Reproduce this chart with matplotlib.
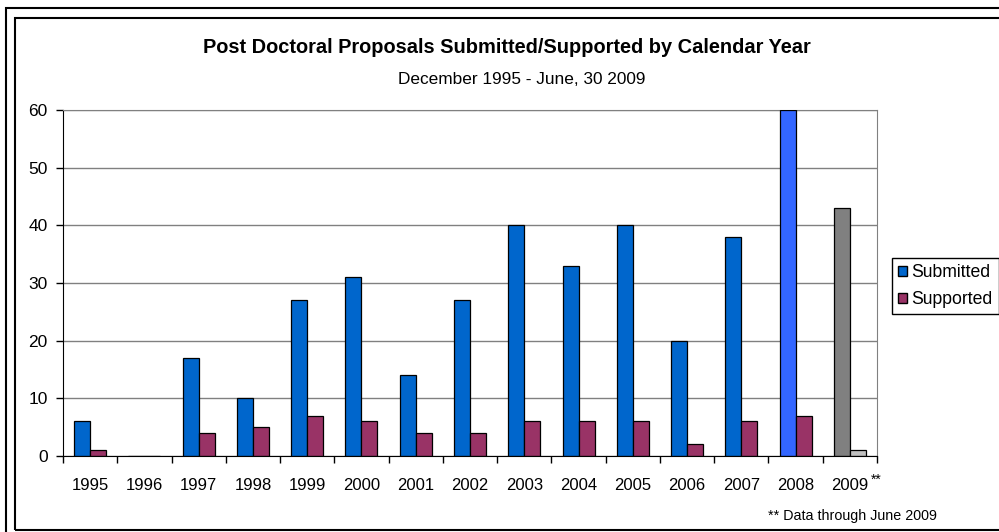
import numpy as np
import matplotlib.pyplot as plt
from matplotlib.patches import Rectangle, Patch
from matplotlib.transforms import blended_transform_factory


# ============================================================
# DATA
# ============================================================

YEARS = ["1995", "1996", "1997", "1998", "1999", "2000", "2001", "2002",
         "2003", "2004", "2005", "2006", "2007", "2008", "2009"]
SUBMITTED = [6, 0, 17, 10, 27, 31, 14, 27, 40, 33, 40, 20, 38, 60, 43]
SUPPORTED = [1, 0, 4, 5, 7, 6, 4, 4, 6, 6, 6, 2, 6, 7, 1]

TITLE = "Post Doctoral Proposals Submitted/Supported by Calendar Year"
SUBTITLE = "December 1995 - June, 30 2009"
FOOTNOTE = "** Data through June 2009"

# ============================================================
# STYLE
# ============================================================

SUBMITTED_COLOR = "#0066CC"
SUPPORTED_COLOR = "#993366"
# 2008 and 2009 bars are coloured differently in the original
SUBMITTED_OVERRIDE = {"2008": "#3366FF", "2009": "#808080"}
SUPPORTED_OVERRIDE = {"2009": "#C0C0C0"}

BAR_WIDTH = 0.295
W, H = 999, 532

plt.rcParams["font.family"] = ["Liberation Sans", "DejaVu Sans"]


def main():
    fig = plt.figure(figsize=(W / 100, H / 100), dpi=100)

    # double frame around the chart
    fig.patches.append(Rectangle((6 / W, -0.05), 1.1, 1 - 8 / H + 0.05,
                                 transform=fig.transFigure, fill=False,
                                 edgecolor="black", linewidth=1.5))
    fig.patches.append(Rectangle((15 / W, 1 - 530 / H), 1.1, (530 - 18) / H,
                                 transform=fig.transFigure, fill=False,
                                 edgecolor="black", linewidth=1.5))

    ax = fig.add_axes([63 / W, 1 - 456 / H, (877 - 63) / W, (456 - 110) / H])

    x = np.arange(len(YEARS))
    sub_colors = [SUBMITTED_OVERRIDE.get(y, SUBMITTED_COLOR) for y in YEARS]
    sup_colors = [SUPPORTED_OVERRIDE.get(y, SUPPORTED_COLOR) for y in YEARS]

    ax.bar(x - BAR_WIDTH / 2, SUBMITTED, BAR_WIDTH, color=sub_colors,
           edgecolor="black", linewidth=0.9, zorder=3)
    ax.bar(x + BAR_WIDTH / 2, SUPPORTED, BAR_WIDTH, color=sup_colors,
           edgecolor="black", linewidth=0.9, zorder=3)

    ax.set_xlim(-0.5, len(YEARS) - 0.5)
    ax.set_ylim(0, 60)
    ax.set_yticks(np.arange(0, 61, 10))
    ax.yaxis.grid(True, color="#808080", linewidth=1.0, zorder=0)

    ax.set_xticks(x)
    ax.set_xticklabels(YEARS)
    ax.set_xticks(np.arange(-0.5, len(YEARS), 1.0), minor=True)
    ax.tick_params(axis="x", which="major", length=0, pad=16, labelsize=12)
    ax.tick_params(axis="x", which="minor", length=5, width=1, direction="out")
    ax.tick_params(axis="y", length=5, width=1, pad=6, labelsize=12.5)

    ax.spines["left"].set_color("black")
    ax.spines["bottom"].set_color("black")
    ax.spines["bottom"].set_zorder(4)
    ax.spines["top"].set_color("#808080")
    ax.spines["right"].set_color("#808080")

    # the "**" marker next to 2009
    trans = blended_transform_factory(ax.transData, ax.transAxes)
    ax.text(14.38, -0.068, "**", transform=trans, fontsize=10,
            ha="left", va="center")

    fig.text(0.507, 0.91, TITLE, ha="center", va="center",
             fontsize=14.4, fontweight="bold")
    fig.text(0.522, 0.85, SUBTITLE, ha="center", va="center", fontsize=12.4)
    fig.text(0.938, 0.030, FOOTNOTE, ha="right", va="center", fontsize=10.3)

    handles = [Patch(facecolor=SUBMITTED_COLOR, edgecolor="black"),
               Patch(facecolor=SUPPORTED_COLOR, edgecolor="black")]
    fig.legend(handles, ["Submitted", "Supported"], loc="center left",
               bbox_to_anchor=(892 / W, 1 - 286 / H), fontsize=12.7,
               frameon=True, fancybox=False, edgecolor="black",
               framealpha=1, handlelength=0.5, handleheight=0.5,
               handletextpad=0.25, borderpad=0.35, labelspacing=0.55,
               borderaxespad=0)

    fig.savefig("out.png", dpi=100)


if __name__ == "__main__":
    main()
